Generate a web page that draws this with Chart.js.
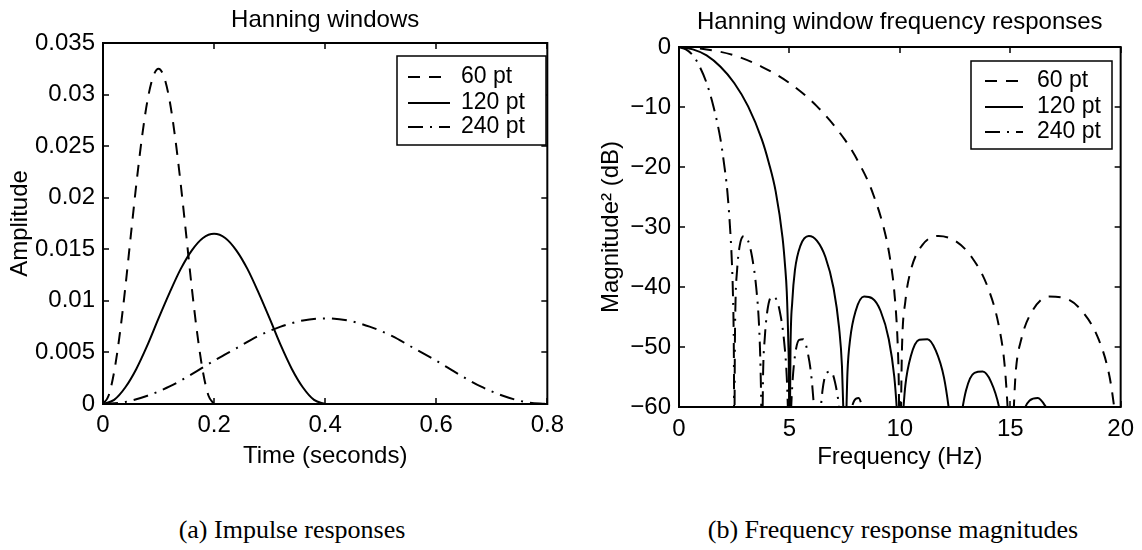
<!DOCTYPE html>
<html>
<head>
<meta charset="utf-8">
<title>Hanning windows</title>
<script src="https://cdn.jsdelivr.net/npm/chart.js@4.4.1/dist/chart.umd.min.js"></script>
<style>
  body { margin: 0; background: #fff; }
  #page { position: relative; width: 1142px; height: 550px; overflow: hidden; }
  canvas { position: absolute; top: 0; }
  .caption { position: absolute; top: 515px; width: 500px; text-align: center; line-height: 30px;
    font-family: "Liberation Serif", "DejaVu Serif", serif; font-size: 26px; color: #000; }
</style>
</head>
<body>
<div id="page">
  <canvas id="impulse" width="571" height="480" style="left:0"></canvas>
  <canvas id="freq" width="571" height="480" style="left:571px"></canvas>
  <div class="caption" style="left:42px">(a) Impulse responses</div>
  <div class="caption" style="left:643px">(b) Frequency response magnitudes</div>
</div>
<script>
// legend labels, same order in both panels
const seriesLabels = ["60 pt", "120 pt", "240 pt"];

// (a) impulse responses, amplitude vs time (s)
const time60 = [0, 0.01, 0.02, 0.03, 0.04, 0.05, 0.06, 0.07, 0.08, 0.09, 0.1,
  0.11, 0.12, 0.13, 0.14, 0.15, 0.16, 0.17, 0.18, 0.19, 0.2];
const amp60 = [0, 0.0008, 0.0031, 0.0067, 0.0112, 0.0163, 0.0213, 0.0258, 0.0294, 0.0317, 0.0325,
  0.0317, 0.0294, 0.0258, 0.0213, 0.0163, 0.0112, 0.0067, 0.0031, 0.0008, 0];
const time120 = [0, 0.02, 0.04, 0.06, 0.08, 0.1, 0.12, 0.14, 0.16, 0.18, 0.2,
  0.22, 0.24, 0.26, 0.28, 0.3, 0.32, 0.34, 0.36, 0.38, 0.4];
const amp120 = [0, 0.0004, 0.0016, 0.0034, 0.0057, 0.0083, 0.0108, 0.0131, 0.0149, 0.0161, 0.0165,
  0.0161, 0.0149, 0.0131, 0.0108, 0.0083, 0.0057, 0.0034, 0.0016, 0.0004, 0];
const time240 = [0, 0.04, 0.08, 0.12, 0.16, 0.2, 0.24, 0.28, 0.32, 0.36, 0.4,
  0.44, 0.48, 0.52, 0.56, 0.6, 0.64, 0.68, 0.72, 0.76, 0.8];
const amp240 = [0, 0.0002, 0.0008, 0.0017, 0.0029, 0.0042, 0.0054, 0.0066, 0.0075, 0.0081, 0.0083,
  0.0081, 0.0075, 0.0066, 0.0054, 0.0042, 0.0029, 0.0017, 0.0008, 0.0002, 0];

// (b) magnitude^2 in dB vs frequency (Hz); anything under -60 is cut off by the axis
const freq60 = [0, 1.25, 2.5, 3.75, 5, 6.25, 7.5, 8.13, 8.75, 9.38, 9.6, 9.75, 9.9, 9.95, 10,
  10.1, 10.25, 10.5, 11, 11.75, 12.5, 13.25, 14, 14.5, 14.75, 14.9, 15,
  15.25, 15.5, 16, 16.75, 17.5, 18.25, 19, 19.5, 19.75, 20];
const mag60 = [0, -0.4, -1.4, -3.3, -6, -9.9, -15.4, -19.2, -24.1, -31.8, -36.3, -40.8, -49.2, -55.4, -70,
  -49.9, -42.4, -37.2, -33.1, -31.5, -32.3, -35, -40.2, -46.8, -53.2, -61.4, -70,
  -54.1, -48.7, -44, -41.6, -41.9, -44, -48.7, -55, -61.3, -70];
const freq120 = [0, 0.63, 1.25, 1.88, 2.5, 3.13, 3.75, 4.06, 4.38, 4.69, 4.8, 4.88, 4.95, 4.98, 5,
  5.05, 5.13, 5.25, 5.5, 5.88, 6.25, 6.63, 7, 7.25, 7.38, 7.45, 7.5,
  7.63, 7.75, 8, 8.38, 8.75, 9.13, 9.5, 9.75, 9.88, 10,
  10.13, 10.25, 10.5, 10.88, 11.25, 11.63, 12, 12.25, 12.5,
  12.75, 13, 13.38, 13.75, 14.13, 14.5, 14.75, 15,
  15.63, 15.88, 16.25, 16.63, 16.88, 17.5, 20];
const mag120 = [0, -0.4, -1.4, -3.3, -6, -9.9, -15.4, -19.2, -24.1, -31.8, -36.3, -40.8, -49.2, -55.4, -70,
  -49.9, -42.4, -37.2, -33.1, -31.5, -32.3, -35, -40.2, -46.8, -53.2, -61.4, -70,
  -54.1, -48.7, -44, -41.6, -41.9, -44, -48.7, -55, -61.3, -70,
  -62, -56.4, -51.5, -48.8, -48.7, -50.6, -55.1, -61.2, -70,
  -62.3, -57.2, -54.3, -54.1, -55.8, -60.1, -66, -70,
  -60.5, -58.9, -58.5, -60.1, -62, -70, -70];
const freq240 = [0, 0.31, 0.63, 0.94, 1.25, 1.56, 1.88, 2.03, 2.19, 2.34, 2.4, 2.44, 2.48, 2.49, 2.5,
  2.53, 2.56, 2.63, 2.75, 2.94, 3.13, 3.31, 3.5, 3.63, 3.69, 3.73, 3.75,
  3.81, 3.88, 4, 4.19, 4.38, 4.56, 4.75, 4.88, 4.94, 5,
  5.06, 5.13, 5.25, 5.44, 5.63, 5.81, 6, 6.13, 6.25,
  6.38, 6.5, 6.69, 6.88, 7.06, 7.25, 7.38, 7.5,
  7.81, 7.94, 8.13, 8.31, 8.44, 8.75, 20];
const mag240 = [0, -0.4, -1.4, -3.3, -6, -9.9, -15.4, -19.2, -24.1, -31.8, -36.3, -40.8, -49.2, -55.4, -70,
  -49.9, -42.4, -37.2, -33.1, -31.5, -32.3, -35, -40.2, -46.8, -53.2, -61.4, -70,
  -54.1, -48.7, -44, -41.6, -41.9, -44, -48.7, -55, -61.3, -70,
  -62, -56.4, -51.5, -48.8, -48.7, -50.6, -55.1, -61.2, -70,
  -62.3, -57.2, -54.3, -54.1, -55.8, -60.1, -66, -70,
  -60.5, -58.9, -58.5, -60.1, -62, -70, -70];

// ticks
const timeTicks = [0, 0.2, 0.4, 0.6, 0.8];
const timeTickLabels = ["0", "0.2", "0.4", "0.6", "0.8"];
const ampTicks = [0, 0.005, 0.01, 0.015, 0.02, 0.025, 0.03, 0.035];
const ampTickLabels = ["0", "0.005", "0.01", "0.015", "0.02", "0.025", "0.03", "0.035"];
const freqTicks = [0, 5, 10, 15, 20];
const freqTickLabels = ["0", "5", "10", "15", "20"];
const dbTicks = [-60, -50, -40, -30, -20, -10, 0];
const dbTickLabels = ["\u221260", "\u221250", "\u221240", "\u221230", "\u221220", "\u221210", "0"];

const FONT = "'Liberation Sans', Arial, Helvetica, sans-serif";
// dashed, solid, dash-dot
const dashes = [[12, 9], [], [15, 7, 2, 7]];

Chart.defaults.font.family = FONT;
Chart.defaults.font.size = 24;
Chart.defaults.color = "#000";

const toPoints = (xs, ys) => xs.map((x, i) => ({ x: x, y: ys[i] }));

// matlab look: closed box, ticks pointing in on all sides, title, boxed legend
const matlabBox = {
  id: "matlabBox",
  afterDatasetsDraw(chart, args, opts) {
    const { ctx, chartArea: a } = chart;
    const xs = chart.scales.x, ys = chart.scales.y;
    ctx.save();
    ctx.strokeStyle = "#000";
    ctx.lineWidth = 1.5;
    ctx.beginPath();
    xs.ticks.forEach(t => {
      const px = Math.round(xs.getPixelForValue(t.value));
      ctx.moveTo(px, a.bottom); ctx.lineTo(px, a.bottom - 6);
      ctx.moveTo(px, a.top); ctx.lineTo(px, a.top + 6);
    });
    ys.ticks.forEach(t => {
      const py = Math.round(ys.getPixelForValue(t.value));
      ctx.moveTo(a.left, py); ctx.lineTo(a.left + 6, py);
      ctx.moveTo(a.right, py); ctx.lineTo(a.right - 6, py);
    });
    ctx.stroke();
    ctx.lineWidth = 2;
    ctx.strokeRect(a.left, a.top, a.right - a.left, a.bottom - a.top);

    ctx.fillStyle = "#000";
    ctx.font = "24px " + FONT;
    ctx.textAlign = "center";
    ctx.textBaseline = "alphabetic";
    ctx.fillText(opts.title, (a.left + a.right) / 2, opts.titleY);

    const lg = opts.legend;
    ctx.fillStyle = "#fff";
    ctx.fillRect(lg.left, lg.top, lg.right - lg.left, lg.bottom - lg.top);
    ctx.lineWidth = 1.5;
    ctx.strokeRect(lg.left, lg.top, lg.right - lg.left, lg.bottom - lg.top);
    ctx.font = "23px " + FONT;
    ctx.textAlign = "left";
    ctx.textBaseline = "middle";
    chart.data.datasets.forEach((ds, i) => {
      const y = lg.rows[i];
      ctx.setLineDash(ds.borderDash);
      ctx.lineWidth = ds.borderWidth;
      ctx.beginPath(); ctx.moveTo(lg.lineFrom, y); ctx.lineTo(lg.lineTo, y); ctx.stroke();
      ctx.setLineDash([]);
      ctx.fillStyle = "#000";
      ctx.fillText(ds.label, lg.textX, y);
    });
    ctx.restore();
  }
};

function makeChart(id, cfg) {
  return new Chart(document.getElementById(id), {
    type: "line",
    data: {
      datasets: cfg.series.map((s, i) => ({
        label: seriesLabels[i],
        data: toPoints(s[0], s[1]),
        borderColor: "#000",
        borderWidth: 2,
        borderDash: dashes[i],
        pointRadius: 0,
        fill: false,
        cubicInterpolationMode: "monotone"
      }))
    },
    plugins: [matlabBox],
    options: {
      responsive: false,
      animation: false,
      events: [],
      layout: { padding: cfg.padding },
      plugins: {
        legend: { display: false },
        tooltip: { enabled: false },
        matlabBox: cfg.box
      },
      scales: {
        x: {
          type: "linear", min: cfg.xMin, max: cfg.xMax,
          afterBuildTicks: s => { s.ticks = cfg.xTicks.map(v => ({ value: v })); },
          ticks: { callback: (v, i) => cfg.xLabels[i], padding: cfg.xPad, maxRotation: 0, autoSkip: false },
          grid: { display: false, drawTicks: false },
          border: { display: false },
          title: { display: true, text: cfg.xTitle, padding: { top: 0, bottom: cfg.xTitlePad } },
          afterFit: s => { s.height = cfg.xHeight; }
        },
        y: {
          type: "linear", min: cfg.yMin, max: cfg.yMax,
          afterBuildTicks: s => { s.ticks = cfg.yTicks.map(v => ({ value: v })); },
          ticks: { callback: (v, i) => cfg.yLabels[i], padding: 8, autoSkip: false },
          grid: { display: false, drawTicks: false },
          border: { display: false },
          title: { display: true, text: cfg.yTitle, padding: { top: cfg.yTitlePad, bottom: 0 } },
          afterFit: s => { s.width = cfg.yWidth; }
        }
      }
    }
  });
}

makeChart("impulse", {
  series: [[time60, amp60], [time120, amp120], [time240, amp240]],
  xMin: 0, xMax: 0.8, xTicks: timeTicks, xLabels: timeTickLabels, xTitle: "Time (seconds)",
  yMin: 0, yMax: 0.035, yTicks: ampTicks, yLabels: ampTickLabels, yTitle: "Amplitude",
  padding: { top: 43, right: 17, bottom: 0, left: 0 },
  xHeight: 76, yWidth: 103, xPad: 7, xTitlePad: 9, yTitlePad: 6,
  box: {
    title: "Hanning windows", titleY: 27,
    legend: { left: 397, top: 56, right: 546, bottom: 145, lineFrom: 408, lineTo: 450, textX: 461, rows: [77, 103, 127] }
  }
});

makeChart("freq", {
  series: [[freq60, mag60], [freq120, mag120], [freq240, mag240]],
  xMin: 0, xMax: 20, xTicks: freqTicks, xLabels: freqTickLabels, xTitle: "Frequency (Hz)",
  yMin: -60, yMax: 0, yTicks: dbTicks, yLabels: dbTickLabels, yTitle: "Magnitude\u00b2 (dB)",
  padding: { top: 47, right: 16, bottom: 0, left: 0 },
  xHeight: 73, yWidth: 108, xPad: 8, xTitlePad: 8, yTitlePad: 26,
  box: {
    title: "Hanning window frequency responses", titleY: 29,
    legend: { left: 400, top: 61, right: 541, bottom: 149, lineFrom: 414, lineTo: 452, textX: 466, rows: [81, 107, 132] }
  }
});
</script>
</body>
</html>
